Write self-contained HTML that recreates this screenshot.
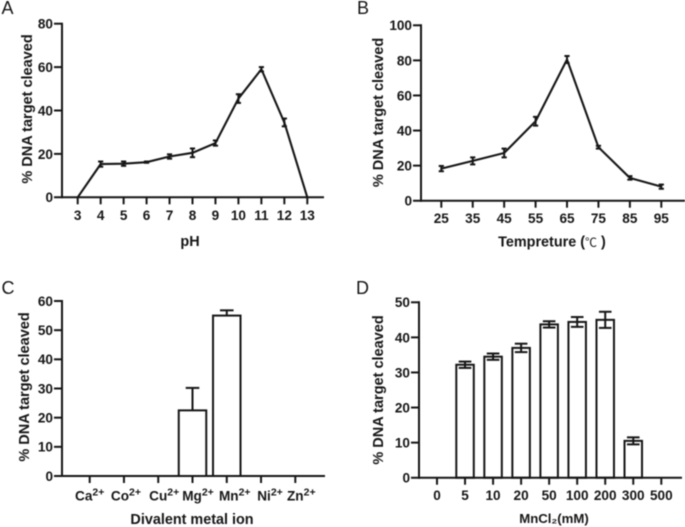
<!DOCTYPE html>
<html>
<head>
<meta charset="utf-8">
<style>
html,body{margin:0;padding:0;background:#fff;width:685px;height:527px;overflow:hidden}
svg{display:block;filter:blur(0.45px)}
text{font-family:"Liberation Sans","Noto Sans CJK SC",sans-serif;fill:#161616}
.tick{font-size:13.6px;font-weight:bold}
.title{font-size:14.4px;font-weight:bold}
.ytitle{font-size:14.5px;font-weight:bold}
.panel{font-size:18px}
</style>
</head>
<body>
<svg id="fig" width="685" height="527" viewBox="0 0 685 527" xmlns="http://www.w3.org/2000/svg">
<text class="panel" x="1.5" y="14">A</text>
<text class="panel" x="357" y="14">B</text>
<text class="panel" x="1.5" y="294">C</text>
<text class="panel" x="356" y="294">D</text>
</svg>
<script>
var phLabels = ['3','4','5','6','7','8','9','10','11','12','13'];
var phValues = [0,15.3,15.5,16.2,18.8,20.5,25,45.5,59,34.5,0];
var phErrors = [0,1.2,1,0.3,1,2,1.2,2,1,1.8,0];
var phTicks = [0,20,40,60,80];

var tempLabels = ['25','35','45','55','65','75','85','95'];
var tempValues = [18.3,22.7,27.2,45.3,80.5,30.5,13,8];
var tempErrors = [1.5,2,2.5,2.5,2,0.8,1,1.2];
var tempTicks = [0,20,40,60,80,100];

var ionLabels = ['Ca','Co','Cu','Mg','Mn','Ni','Zn'];
var ionValues = [0,0,0,22.5,55,0,0];
var ionErrors = [0,0,0,7.7,1.8,0,0];
var ionTicks = [0,10,20,30,40,50,60];

var mnLabels = ['0','5','10','20','50','100','200','300','500'];
var mnValues = [0,32.2,34.5,37,43.7,44.4,45,10.5,0];
var mnErrors = [0,0.9,0.9,1.2,0.9,1.4,2.3,1,0];
var mnTicks = [0,10,20,30,40,50];

var NS = 'http://www.w3.org/2000/svg';
var fig = document.getElementById('fig');
var INK = '#161616';
var SW = 2;

function line(x1, y1, x2, y2, w, name) {
  var el = document.createElementNS(NS, 'line');
  el.setAttribute('x1', x1);
  el.setAttribute('y1', y1);
  el.setAttribute('x2', x2);
  el.setAttribute('y2', y2);
  el.setAttribute('stroke', INK);
  el.setAttribute('stroke-width', w);
  
  
  fig.appendChild(el);
  return el;
}
function label(x, y, str, cls, anchor, name) {
  var el = document.createElementNS(NS, 'text');
  el.setAttribute('x', x);
  el.setAttribute('y', y);
  el.setAttribute('class', cls);
  el.setAttribute('text-anchor', anchor);
  el.textContent = str;
  
  
  fig.appendChild(el);
  return el;
}
function scaleY(c) {
  var top = c.ticks[c.ticks.length - 1];
  return function (v) { return c.y0 - (v / top) * (c.y0 - c.yTop); };
}
function scaleX(c) {
  var n = c.labels.length - 1;
  return function (i) { return c.x0 + (i / n) * (c.x1 - c.x0); };
}
function axes(c, X, Y) {
  var i;
  line(c.axisX, c.yTop - 1, c.axisX, c.y0 + 1, SW, c.id + '-y-axis');
  line(c.axisX - 8, c.y0, c.xEnd, c.y0, SW, c.id + '-x-axis');
  for (i = 0; i < c.ticks.length; i++) {
    var t = c.ticks[i];
    if (t !== 0) {
      line(c.axisX - 8, Y(t), c.axisX, Y(t), SW, c.id + '-y-tick');
    }
    label(c.axisX - 9, Y(t) + 4.9, String(t), 'tick', 'end', c.id + '-y-tick-label');
  }
  for (i = 0; i < c.labels.length; i++) {
    line(X(i), c.y0, X(i), c.y0 + 7, SW, c.id + '-x-tick');
    if (c.ion) {
      /* the reference spreads these labels slightly wider than the ticks */
      var shift = c.labelSpread * i + c.labelNudge[i];
      var lab = label(X(i) + shift, c.y0 + 24.7, c.labels[i], 'tick', 'middle', c.id + '-x-tick-label');
      var sup = document.createElementNS(NS, 'tspan');
      sup.setAttribute('dy', '-5');
      sup.style.fontSize = '10.5px';
      sup.textContent = '2+';
      lab.appendChild(sup);
    } else {
      label(X(i), c.y0 + 22.5, c.labels[i], 'tick', 'middle', c.id + '-x-tick-label');
    }
  }
  var tt = label(c.titleX, c.titleY, c.title, 'title', 'middle', c.id + '-x-axis-title');
  if (c.titleSize) {
    tt.style.fontSize = c.titleSize + 'px';
  }
  if (c.titleUnit) {
    var unit = document.createElementNS(NS, 'tspan');
    unit.style.fontWeight = 'normal';
    unit.style.fontSize = '12px';
    unit.textContent = c.titleUnit;
    tt.appendChild(unit);
    var close = document.createElementNS(NS, 'tspan');
    close.textContent = ' )';
    tt.appendChild(close);
  }
  var yt = label(0, 0, '% DNA target cleaved', 'ytitle', 'middle', c.id + '-y-axis-title');
  yt.setAttribute('transform', 'translate(' + c.yTitleX + ',' + c.yTitleY + ') rotate(-90)');
}
function errorBar(x, v, e, cap, Y, id, both) {
  if (!e) return;
  var hi = Y(v + e), lo = both ? Y(v - e) : Y(v);
  line(x, hi, x, lo, SW, id + '-error-bar');
  line(x - cap, hi, x + cap, hi, SW, id + '-error-cap');
  if (both) {
    line(x - cap, lo, x + cap, lo, SW, id + '-error-cap');
  }
}
function lineChart(c) {
  var X = scaleX(c), Y = scaleY(c);
  axes(c, X, Y);
  var pts = c.values.map(function (v, i) { return X(i).toFixed(2) + ',' + Y(v).toFixed(2); }).join(' ');
  var p = document.createElementNS(NS, 'polyline');
  p.setAttribute('points', pts);
  p.setAttribute('fill', 'none');
  p.setAttribute('stroke', INK);
  p.setAttribute('stroke-width', '2.1');
  p.setAttribute('stroke-linejoin', 'miter');
  
  
  fig.appendChild(p);
  c.values.forEach(function (v, i) {
    errorBar(X(i), v, c.errors[i], 2.6, Y, c.id, true);
  });
}
function barChart(c) {
  var X = scaleX(c), Y = scaleY(c);
  axes(c, X, Y);
  c.values.forEach(function (v, i) {
    errorBar(X(i), v, c.errors[i], c.cap, Y, c.id, c.both);
    if (v > 0) {
      var r = document.createElementNS(NS, 'rect');
      r.setAttribute('x', X(i) - c.barW / 2);
      r.setAttribute('y', Y(v));
      r.setAttribute('width', c.barW);
      r.setAttribute('height', c.y0 - Y(v));
      r.setAttribute('fill', 'none');
      r.setAttribute('stroke', INK);
      r.setAttribute('stroke-width', SW);
      
      
      fig.appendChild(r);
    }
  });
}

lineChart({id:'ph-chart', labels:phLabels, values:phValues, errors:phErrors, ticks:phTicks,
  axisX:62, y0:197.3, yTop:23.7, x0:77.7, x1:307.3, xEnd:324,
  title:'pH', titleX:190, titleY:246, yTitleX:32, yTitleY:109});
lineChart({id:'temp-chart', labels:tempLabels, values:tempValues, errors:tempErrors, ticks:tempTicks,
  axisX:421, y0:200.7, yTop:25.3, x0:441.3, x1:661.3, xEnd:685,
  title:'Tempreture (', titleUnit:'℃', titleX:552, titleY:246.5, yTitleX:383, yTitleY:112.5});
barChart({id:'ion-chart', labels:ionLabels, values:ionValues, errors:ionErrors, ticks:ionTicks, ion:true,
  labelSpread:1, labelNudge:[0,1,4,2.5,4,4,0],
  axisX:62, y0:476, yTop:301, x0:89.7, x1:295.3, xEnd:325, barW:27.5, cap:6.8, both:false,
  title:'Divalent metal ion', titleX:192, titleY:524, yTitleX:29, yTitleY:387});
barChart({id:'mn-chart', labels:mnLabels, values:mnValues, errors:mnErrors, ticks:mnTicks,
  axisX:419, y0:477.7, yTop:302.3, x0:437, x1:661.3, xEnd:682, barW:17.5, cap:6.3, both:true,
  title:'MnCl₂(mM)', titleSize:13.2, titleX:554, titleY:523, yTitleX:383, yTitleY:390});
</script>
</body>
</html>
